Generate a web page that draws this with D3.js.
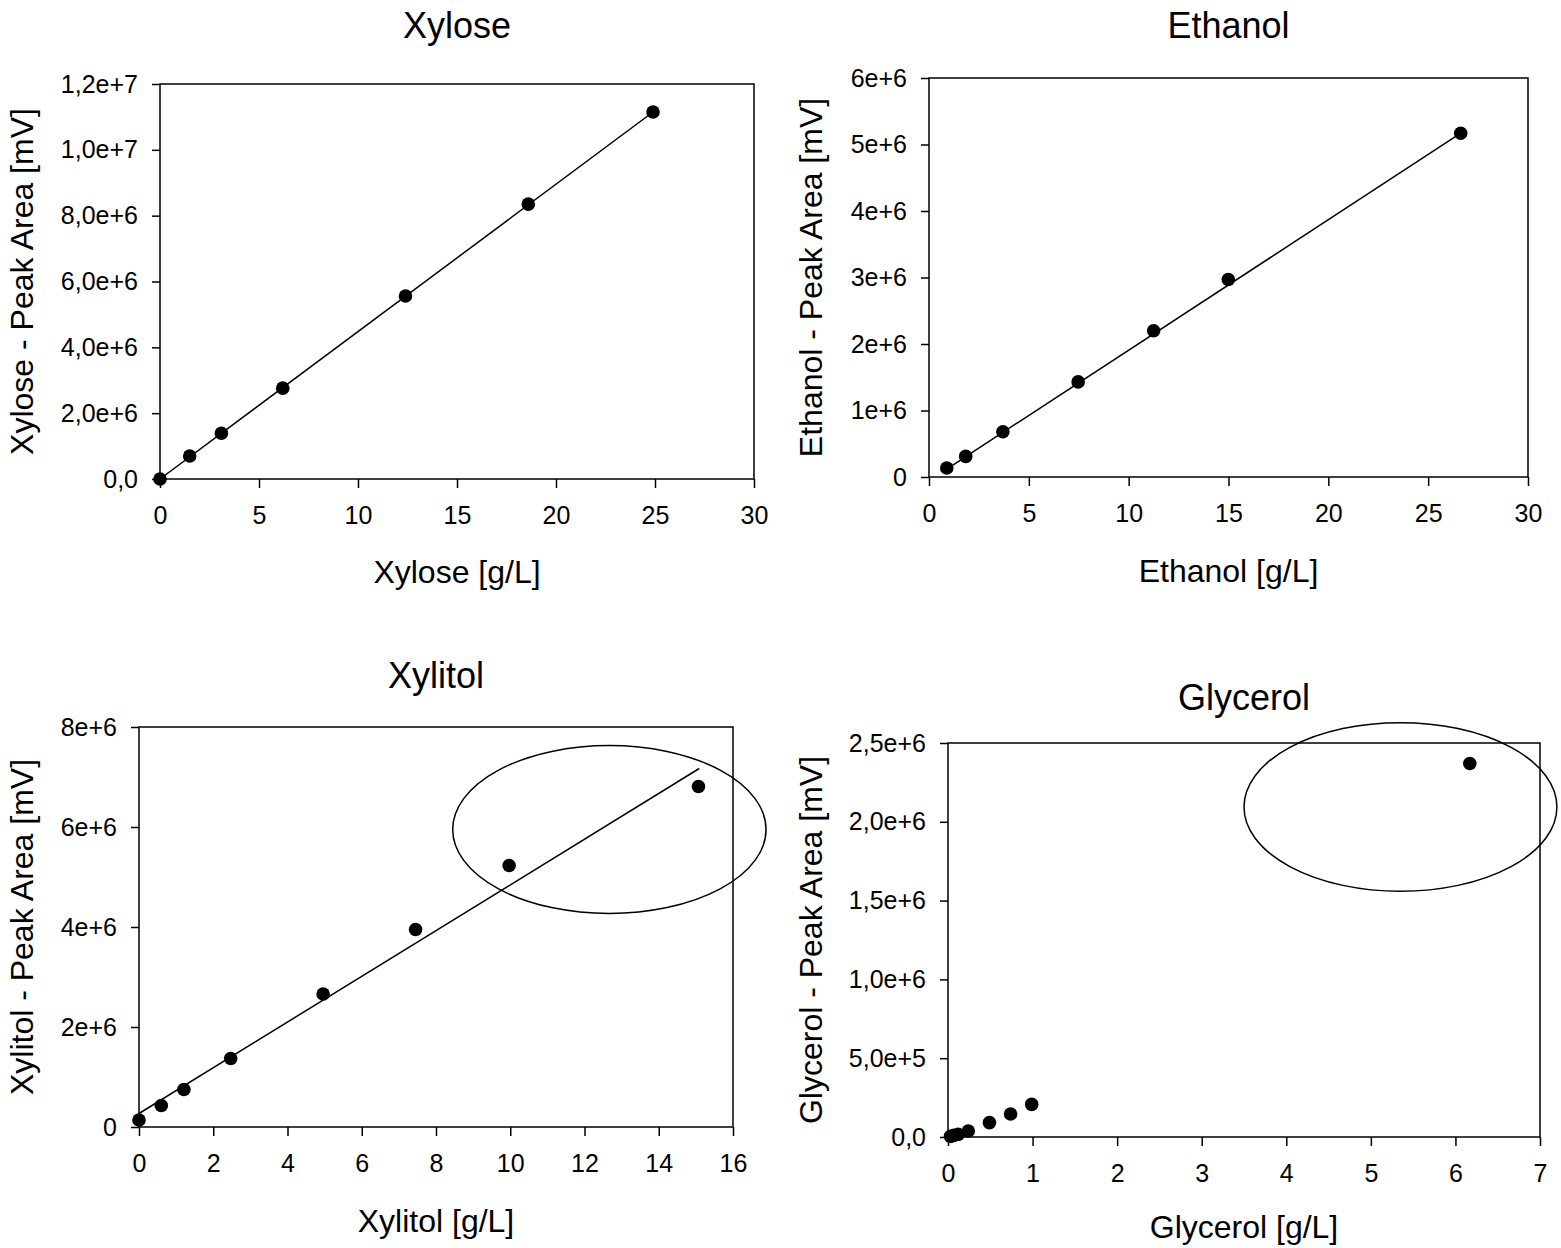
<!DOCTYPE html>
<html>
<head>
<meta charset="utf-8">
<script src="https://cdn.jsdelivr.net/npm/d3@7"></script>
<style>
  body { margin: 0; background: #fff; }
  svg text { font-family: "Liberation Sans", Arial, sans-serif; fill: #000; }
</style>
</head>
<body>
<div id="plot"></div>
<script>
// data
var xyloseX = [0, 1.5, 3.1, 6.2, 12.4, 18.6, 24.9]
var xyloseY = [0, 0.70e6, 1.39e6, 2.76e6, 5.56e6, 8.35e6, 11.15e6]
var xyloseFitX = [0, 24.9]
var xyloseFitY = [0, 11.15e6]

var ethanolX = [0.89, 1.84, 3.7, 7.47, 11.25, 14.99, 26.63]
var ethanolY = [0.135e6, 0.31e6, 0.68e6, 1.43e6, 2.2e6, 2.97e6, 5.17e6]
var ethanolFitX = [0.89, 26.63]
var ethanolFitY = [0.12e6, 5.17e6]

var xylitolX = [0, 0.6, 1.21, 2.47, 4.96, 7.45, 9.97, 15.07]
var xylitolY = [0.14e6, 0.43e6, 0.75e6, 1.37e6, 2.66e6, 3.95e6, 5.23e6, 6.81e6]
var xylitolFitX = [0, 15.09]
var xylitolFitY = [0.27e6, 7.17e6]
var xylitolCircle = [12.67, 5.95e6, 4.22, 1.68e6]   // cx, cy, rx, ry (data units)

var glycerolX = [0.03, 0.07, 0.12, 0.24, 0.49, 0.74, 0.99, 6.17]
var glycerolY = [0.004e6, 0.01e6, 0.017e6, 0.038e6, 0.091e6, 0.146e6, 0.207e6, 2.37e6]
var glycerolCircle = [5.35, 2.094e6, 1.85, 0.535e6]

// ticks
var ticks0to30 = [0, 5, 10, 15, 20, 25, 30]
var xylitolXTicks = [0, 2, 4, 6, 8, 10, 12, 14, 16]
var glycerolXTicks = [0, 1, 2, 3, 4, 5, 6, 7]
var xyloseYTicks = [0, 2e6, 4e6, 6e6, 8e6, 10e6, 12e6]
var xyloseYLabels = ["0,0", "2,0e+6", "4,0e+6", "6,0e+6", "8,0e+6", "1,0e+7", "1,2e+7"]
var ethanolYTicks = [0, 1e6, 2e6, 3e6, 4e6, 5e6, 6e6]
var ethanolYLabels = ["0", "1e+6", "2e+6", "3e+6", "4e+6", "5e+6", "6e+6"]
var xylitolYTicks = [0, 2e6, 4e6, 6e6, 8e6]
var xylitolYLabels = ["0", "2e+6", "4e+6", "6e+6", "8e+6"]
var glycerolYTicks = [0, 0.5e6, 1e6, 1.5e6, 2e6, 2.5e6]
var glycerolYLabels = ["0,0", "5,0e+5", "1,0e+6", "1,5e+6", "2,0e+6", "2,5e+6"]

var svg = d3.select("#plot").append("svg")
    .attr("width", 1561)
    .attr("height", 1248)

function panel(p)
{
    var x = d3.scaleLinear().domain(p.xDomain).range([p.left, p.right])
    var y = d3.scaleLinear().domain(p.yDomain).range([p.bottom, p.top])
    var g = svg.append("g")

    // x axis
    var xa = g.append("g")
        .attr("transform", "translate(0," + p.bottom + ")")
        .call(d3.axisBottom(x).tickValues(p.xTicks).tickSize(9).tickSizeOuter(0).tickPadding(18)
            .tickFormat(function (d) { return d }))
    xa.select(".domain").remove()
    xa.selectAll("line").attr("stroke-width", 1.5)
    xa.selectAll("text").style("font-size", "25px")

    // y axis
    var ya = g.append("g")
        .attr("transform", "translate(" + p.left + ",0)")
        .call(d3.axisLeft(y).tickValues(p.yTicks).tickSize(8).tickSizeOuter(0).tickPadding(14)
            .tickFormat(function (d, i) { return p.yLabels[i] }))
    ya.select(".domain").remove()
    ya.selectAll("line").attr("stroke-width", 1.5)
    ya.selectAll("text").style("font-size", "25px")

    // frame
    g.append("rect")
        .attr("x", p.left).attr("y", p.top)
        .attr("width", p.right - p.left).attr("height", p.bottom - p.top)
        .attr("fill", "none").attr("stroke", "#000").attr("stroke-width", 1.5)

    // fitted line
    if (p.fitX)
    {
        var line = d3.line()
            .x(function (d) { return x(d[0]) })
            .y(function (d) { return y(d[1]) })
        g.append("path")
            .datum(d3.zip(p.fitX, p.fitY))
            .attr("d", line)
            .attr("fill", "none").attr("stroke", "#000").attr("stroke-width", 1.5)
    }

    // points
    g.selectAll(".pt")
        .data(d3.zip(p.xs, p.ys))
        .enter().append("circle")
        .attr("class", "pt")
        .attr("cx", function (d) { return x(d[0]) })
        .attr("cy", function (d) { return y(d[1]) })
        .attr("r", 6.8)
        .attr("fill", "#000")

    // outlier ellipse
    if (p.circle)
    {
        var c = p.circle
        g.append("ellipse")
            .attr("cx", x(c[0])).attr("cy", y(c[1]))
            .attr("rx", x(c[0] + c[2]) - x(c[0]))
            .attr("ry", y(c[1]) - y(c[1] + c[3]))
            .attr("fill", "none").attr("stroke", "#000").attr("stroke-width", 1.5)
    }

    // labels
    var cx = (p.left + p.right) / 2
    var cy = (p.top + p.bottom) / 2
    g.append("text")
        .attr("x", cx).attr("y", p.titleY)
        .attr("text-anchor", "middle")
        .style("font-size", "36px")
        .text(p.title)
    g.append("text")
        .attr("x", cx).attr("y", p.xLabelY)
        .attr("text-anchor", "middle")
        .style("font-size", "32px")
        .text(p.xLabel)
    g.append("text")
        .attr("transform", "translate(" + p.yLabelX + "," + cy + ") rotate(-90)")
        .attr("text-anchor", "middle")
        .style("font-size", "32px")
        .text(p.yLabel)
}

panel({
    left: 160, right: 754, top: 84, bottom: 479,
    xDomain: [0, 30], yDomain: [0, 1.2e7],
    xTicks: ticks0to30, yTicks: xyloseYTicks, yLabels: xyloseYLabels,
    xs: xyloseX, ys: xyloseY, fitX: xyloseFitX, fitY: xyloseFitY,
    title: "Xylose", titleY: 38,
    xLabel: "Xylose [g/L]", xLabelY: 583,
    yLabel: "Xylose - Peak Area [mV]", yLabelX: 33
})

panel({
    left: 929, right: 1528, top: 78, bottom: 477,
    xDomain: [0, 30], yDomain: [0, 6e6],
    xTicks: ticks0to30, yTicks: ethanolYTicks, yLabels: ethanolYLabels,
    xs: ethanolX, ys: ethanolY, fitX: ethanolFitX, fitY: ethanolFitY,
    title: "Ethanol", titleY: 38,
    xLabel: "Ethanol [g/L]", xLabelY: 582,
    yLabel: "Ethanol - Peak Area [mV]", yLabelX: 822
})

panel({
    left: 139, right: 733, top: 727, bottom: 1127,
    xDomain: [0, 16], yDomain: [0, 8e6],
    xTicks: xylitolXTicks, yTicks: xylitolYTicks, yLabels: xylitolYLabels,
    xs: xylitolX, ys: xylitolY, fitX: xylitolFitX, fitY: xylitolFitY,
    circle: xylitolCircle,
    title: "Xylitol", titleY: 688,
    xLabelY: 1232, xLabel: "Xylitol [g/L]",
    yLabel: "Xylitol - Peak Area [mV]", yLabelX: 33
})

panel({
    left: 948, right: 1540, top: 743, bottom: 1137,
    xDomain: [0, 7], yDomain: [0, 2.5e6],
    xTicks: glycerolXTicks, yTicks: glycerolYTicks, yLabels: glycerolYLabels,
    xs: glycerolX, ys: glycerolY,
    circle: glycerolCircle,
    title: "Glycerol", titleY: 710,
    xLabel: "Glycerol [g/L]", xLabelY: 1238,
    yLabel: "Glycerol - Peak Area [mV]", yLabelX: 822
})
</script>
</body>
</html>
